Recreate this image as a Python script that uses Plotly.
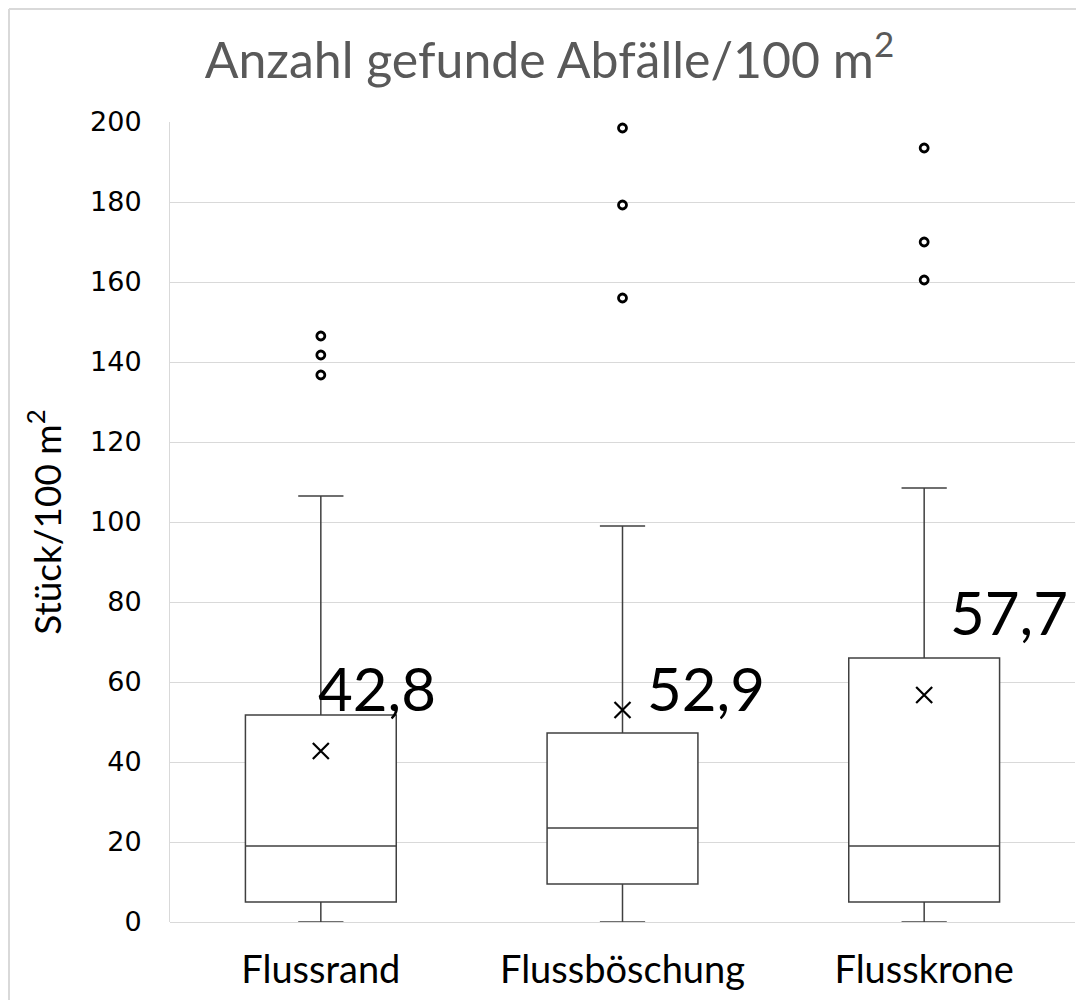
import plotly.graph_objects as go

# ---- data ----
categories = ["Flussrand", "Flussböschung", "Flusskrone"]
lower_whisker = [0, 0, 0]
q1 = [5, 9.5, 5]
median = [19, 23.5, 19]
q3 = [51.75, 47.25, 66]
upper_whisker = [106.5, 99, 108.5]
means = [42.75, 53, 56.75]
mean_labels = ["42,8", "52,9", "57,7"]
outliers = [[136.75, 141.75, 146.5], [156, 179.25, 198.5], [160.5, 170, 193.5]]
y_ticks = [0, 20, 40, 60, 80, 100, 120, 140, 160, 180, 200]

# ---- style ----
label_shift = [(-5, 63), (22, 22), (24, 83)]
LINE = "#404040"
GRID = "#d9d9d9"
FONT = "Lato"

fig = go.Figure()
fig.add_trace(go.Box(
    x=categories, q1=q1, median=median, q3=q3,
    lowerfence=lower_whisker, upperfence=upper_whisker,
    boxpoints=False, fillcolor="white",
    line=dict(color=LINE, width=1.5), width=0.5, whiskerwidth=0.3,
    showlegend=False, hoverinfo="skip",
))

ox, oy = [], []
for c, vals in zip(categories, outliers):
    for v in vals:
        ox.append(c)
        oy.append(v)
fig.add_trace(go.Scatter(
    x=ox, y=oy, mode="markers",
    marker=dict(symbol="circle-open", size=8, color="black", line=dict(width=2.8, color="black")),
    showlegend=False,
))
fig.add_trace(go.Scatter(
    x=categories, y=means, mode="markers",
    marker=dict(symbol="x-thin", size=16, color="black", line=dict(width=2.2, color="black")),
    showlegend=False,
))

for c, m, lab, (dx, dy) in zip(categories, means, mean_labels, label_shift):
    fig.add_annotation(x=c, y=m, text=lab, showarrow=False, xanchor="left", yanchor="middle",
                       xshift=dx, yshift=dy, font=dict(family=FONT, size=60, color="black"))

# thin light-grey frame edges (top and left) around the chart
fig.add_shape(type="line", xref="paper", yref="paper", x0=-0.1779, x1=1.5, y0=1.14125, y1=1.14125,
              line=dict(color=GRID, width=2), layer="below")
fig.add_shape(type="line", xref="paper", yref="paper", x0=-0.1779, x1=-0.1779, y0=-0.5, y1=1.14125,
              line=dict(color=GRID, width=2), layer="below")

# page body has an 8px margin, so the figure is sized to fit inside it and margins shifted
fig.update_layout(
    width=1068, height=992,
    margin=dict(l=162, r=1, t=114, b=78),
    plot_bgcolor="white", paper_bgcolor="white",
    title=dict(text="Anzahl gefunde Abfälle/100 m<sup>2</sup>", x=0.507, xref="container", xanchor="center",
               y=0.9475, yref="container", yanchor="middle",
               font=dict(family=FONT, size=50, color="#595959")),
    xaxis=dict(range=[-0.5, 2.5], showgrid=False, showline=False, zeroline=False, ticks="",
               tickfont=dict(family=FONT, size=38, color="black"), ticklabelstandoff=22),
    yaxis=dict(range=[0, 200], tickvals=y_ticks, showgrid=True, gridcolor=GRID, gridwidth=1,
               zeroline=True, zerolinecolor=GRID, zerolinewidth=1,
               showline=True, linecolor=GRID, linewidth=1, ticks="",
               tickfont=dict(family="DejaVu Sans", size=27, color="black"), ticklabelstandoff=22,
               title=dict(text="Stück/100 m<sup>2</sup>", standoff=17,
                          font=dict(family=FONT, size=37, color="black"))),
)

fig.write_html("out.html")
